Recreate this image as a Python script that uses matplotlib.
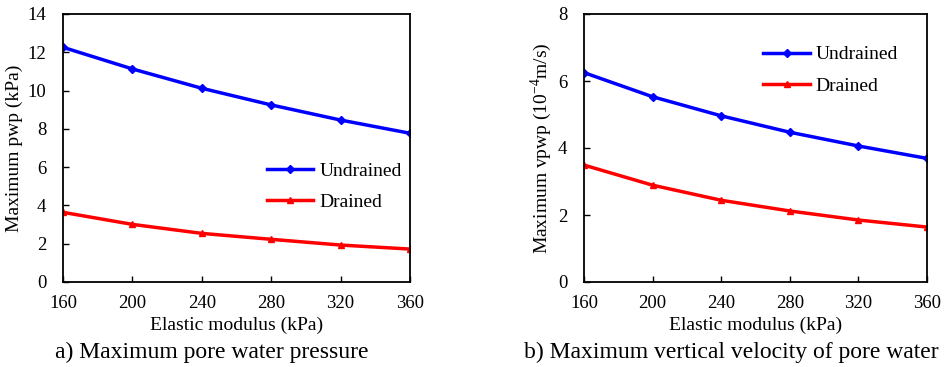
import matplotlib.pyplot as plt

plt.rcParams['font.family'] = ['Liberation Serif', 'DejaVu Serif']
plt.rcParams['mathtext.fontset'] = 'custom'
plt.rcParams['mathtext.rm'] = 'Liberation Serif'

modulus = [160, 200, 240, 280, 320, 360]
pwp_undrained = [12.26, 11.13, 10.12, 9.25, 8.46, 7.77]
pwp_drained = [3.64, 3.01, 2.54, 2.23, 1.93, 1.72]
vpwp_undrained = [6.25, 5.53, 4.96, 4.47, 4.06, 3.69]
vpwp_drained = [3.49, 2.89, 2.44, 2.12, 1.85, 1.64]

fig = plt.figure(figsize=(9.51, 3.67), dpi=100)
ax1 = fig.add_axes([63/951, 1-282/367, 347/951, 268/367])
ax2 = fig.add_axes([584/951, 1-282/367, 343/951, 268/367])


def draw(ax, und, dr, ylim, yticks, ylabel, legend_loc):
    ax.plot(modulus, und, color='#0000ff', lw=2.5, marker='D', ms=4.5, label='Undrained')
    ax.plot(modulus, dr, color='#ff0000', lw=2.5, marker='^', ms=4, label='Drained')
    ax.set_xlim(160, 360)
    ax.set_ylim(*ylim)
    ax.set_xticks(modulus)
    ax.set_yticks(yticks)
    ax.tick_params(direction='in', labelsize=13.5, length=4, width=1)
    ax.tick_params(axis='x', pad=9)
    ax.tick_params(axis='y', pad=12)
    ax.set_xlabel('Elastic modulus (kPa)', fontsize=14, labelpad=4)
    ax.set_ylabel(ylabel, fontsize=14, labelpad=3)
    for s in ax.spines.values():
        s.set_linewidth(1.3)
    ax.legend(loc=legend_loc, frameon=False, fontsize=14, handlelength=2.4,
              handletextpad=0.3, labelspacing=0.7)


draw(ax1, pwp_undrained, pwp_drained, (0, 14), range(0, 15, 2),
     'Maximum pwp (kPa)', (0.565, 0.235))
draw(ax2, vpwp_undrained, vpwp_drained, (0, 8), range(0, 9, 2),
     'Maximum vpwp (10$^{\\mathrm{-4}}$m/s)', (0.5, 0.67))

fig.text(212/951, 1-352/367, 'a) Maximum pore water pressure', fontsize=17,
         ha='center', va='center')
fig.text(731/951, 1-352/367, 'b) Maximum vertical velocity of pore water', fontsize=17,
         ha='center', va='center')

fig.savefig('out.png', dpi=100)
